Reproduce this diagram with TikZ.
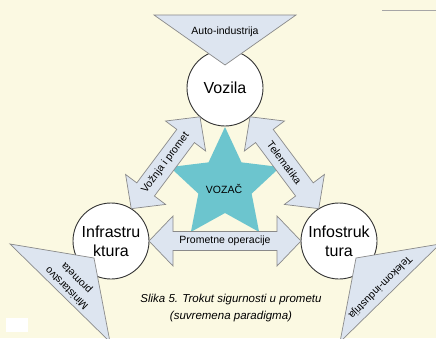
\documentclass[tikz,border=0pt]{standalone}
\usepackage{fontspec}
\setmainfont{Liberation Sans}
\usetikzlibrary{calc}

\definecolor{paper}{HTML}{FBF9E2}
\definecolor{panel}{HTML}{DDE5F0}
\definecolor{edge}{HTML}{8A8A8A}
\definecolor{driverfill}{HTML}{6CC5CE}
\definecolor{ring}{HTML}{333333}

\tikzset{
  hub/.style={circle, draw=ring, line width=0.9pt, fill=white, minimum size=76pt,
    inner sep=0pt, outer sep=0pt, font=\fontsize{16}{19}\selectfont, align=center},
  slab/.style={draw=edge, line width=0.7pt, fill=panel, line join=miter},
  small/.style={font=\fontsize{10.5}{13}\selectfont, inner sep=0pt, align=center},
}

% two-headed block arrow between two points: from, to, node name, label, shaft half-width
\newcommand\twoway[5]{%
  \path[slab] let \p1=(#1), \p2=(#2),
      \n1={atan2(\y2-\y1,\x2-\x1)}, \n2={veclen(\x2-\x1,\y2-\y1)/2} in
    [shift={($(#1)!0.5!(#2)$)}, rotate=\n1]
    (-\n2,0) -- (-\n2+24,25) -- (-\n2+24,#5) -- (\n2-24,#5) -- (\n2-24,25)
    -- (\n2,0) -- (\n2-24,-25) -- (\n2-24,-#5) -- (-\n2+24,-#5) -- (-\n2+24,-25) -- cycle
    (0,0) node[small, rotate=\n1] (#3) {#4};
}

\begin{document}
\begin{tikzpicture}[x=1pt, y=1pt]
  \path[use as bounding box, fill=paper] (0,0) rectangle (436,338);
  \draw[line width=1.3pt, color=black!35] (382,327.5) -- (436,327.5);

  % the driver star
  \begin{scope}[shift={(225,153)}]
    \fill[driverfill] (90:58) -- (126:28) -- (162:58) -- (198:28) -- (234:58)
      -- (270:28) -- (306:58) -- (342:28) -- (18:58) -- (54:28) -- cycle;
  \end{scope}
  \node[small] (driver) at (224,149) {VOZAČ};

  % the three corners
  \node[hub] (vozila) at (225,250) {Vozila};
  \node[hub] (infra) at (111,97) {Infrastru\\ktura};
  \node[hub] (info) at (339,97) {Infostruk\\tura};

  % links between the corners
  \twoway{infra.58}{vozila.229}{drive}{Vožnja i promet}{11}
  \twoway{vozila.311}{info.122}{telem}{Telematika}{11}
  \twoway{infra.east}{info.west}{ops}{Prometne operacije}{9.5}

  % stakeholders
  \draw[slab] (154,323) -- (296,323) -- (225,273) -- cycle;
  \node[small] (auto) at (225,306) {Auto-industrija};

  \draw[slab] (10,94) -- (94,80) -- (110,-4) -- cycle;
  \node[small, font=\fontsize{10.5}{14}\selectfont, rotate=135] (ministry) at (72,55) {Ministarstvo\\prometa};

  \draw[slab] (440,94) -- (356,80) -- (340,-4) -- cycle;
  \node[small, rotate=225] (telecom) at (380,51) {Telekom-industrija};

  \node[small, font=\itshape\fontsize{11.5}{17}\selectfont] (caption) at (231,29.5)
    {Slika 5. Trokut sigurnosti u prometu\\(suvremena paradigma)};

  \fill[white] (6,6) rectangle (28,20);
\end{tikzpicture}
\end{document}
